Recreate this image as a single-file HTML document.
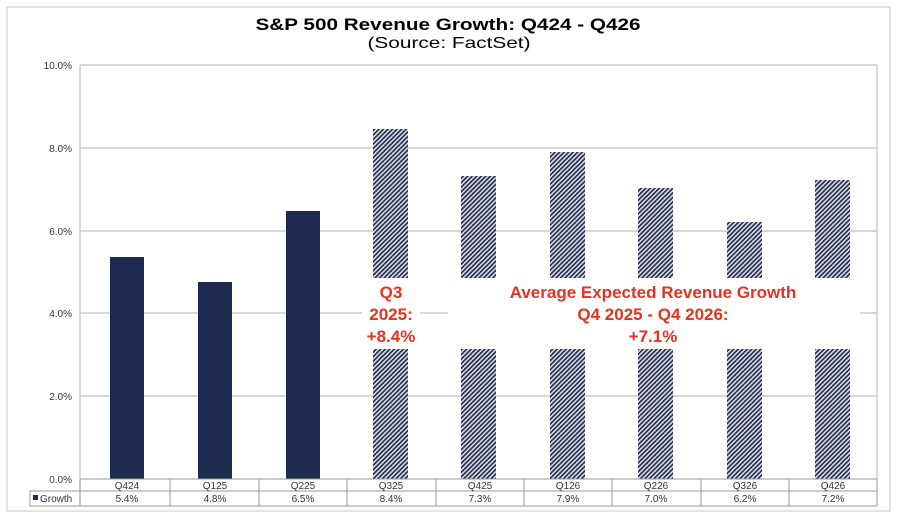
<!DOCTYPE html>
<html><head><style>body{margin:0;background:#fff}svg{display:block}</style></head><body>
<svg width="900" height="522" viewBox="0 0 900 522" xmlns="http://www.w3.org/2000/svg" font-family="Liberation Sans, Arial, sans-serif">
<defs>
<pattern id="h" patternUnits="userSpaceOnUse" width="3.2" height="3.2" patternTransform="rotate(45)">
<rect width="3.2" height="3.2" fill="#e6e8ee"/><rect width="1.8" height="3.2" fill="#2b3556"/>
</pattern>
</defs>
<rect x="7" y="7" width="883" height="504" fill="#fff" stroke="#c8c8c8"/>
<text x="448" y="30" text-anchor="middle" font-size="17" font-weight="bold" textLength="385" lengthAdjust="spacingAndGlyphs">S&amp;P 500 Revenue Growth: Q424 - Q426</text>
<text x="449" y="48" text-anchor="middle" font-size="16" textLength="163" lengthAdjust="spacingAndGlyphs">(Source: FactSet)</text>
<g stroke="#c0c0c0" stroke-width="1.2">
<line x1="80" y1="65" x2="877" y2="65"/>
<line x1="80" y1="148" x2="877" y2="148"/>
<line x1="80" y1="231" x2="877" y2="231"/>
<line x1="80" y1="313" x2="877" y2="313"/>
<line x1="80" y1="396" x2="877" y2="396"/>
<line x1="80" y1="65" x2="80" y2="479"/>
<line x1="877" y1="65" x2="877" y2="479"/>
</g>
<g font-size="10" fill="#333" text-anchor="end">
<text x="72" y="69">10.0%</text><text x="72" y="152">8.0%</text><text x="72" y="235">6.0%</text>
<text x="72" y="317">4.0%</text><text x="72" y="400">2.0%</text><text x="72" y="483">0.0%</text>
</g>
<g fill="#1c2a4f">
<rect x="110" y="257" width="34" height="222"/>
<rect x="198" y="282" width="34" height="197"/>
<rect x="286" y="211" width="34" height="268"/>
</g>
<g fill="url(#h)">
<rect x="373" y="129" width="35" height="350"/>
<rect x="461" y="176" width="35" height="303"/>
<rect x="550" y="152" width="35" height="327"/>
<rect x="638" y="188" width="35" height="291"/>
<rect x="727" y="222" width="35" height="257"/>
<rect x="815" y="180" width="35" height="299"/>
</g>
<rect x="362" y="278" width="498" height="71" fill="#fff"/>
<line x1="420" y1="313" x2="448" y2="313" stroke="#c0c0c0" stroke-width="1.2"/>
<g fill="#e8321f" font-size="17" font-weight="bold" text-anchor="middle" font-family="Liberation Sans, sans-serif">
<text x="391" y="298">Q3</text><text x="391" y="320">2025:</text><text x="391" y="342">+8.4%</text>
<text x="653" y="298">Average Expected Revenue Growth</text>
<text x="653" y="320">Q4 2025 - Q4 2026:</text>
<text x="653" y="342">+7.1%</text>
</g>
<g stroke="#999" fill="none">
<line x1="80" y1="479" x2="877" y2="479"/>
<line x1="30" y1="491" x2="877" y2="491"/>
<rect x="30" y="491" width="847" height="15"/>
<line x1="80" y1="479" x2="80" y2="506"/>
<line x1="170" y1="479" x2="170" y2="506"/><line x1="259" y1="479" x2="259" y2="506"/>
<line x1="347" y1="479" x2="347" y2="506"/><line x1="436" y1="479" x2="436" y2="506"/>
<line x1="524" y1="479" x2="524" y2="506"/><line x1="612" y1="479" x2="612" y2="506"/>
<line x1="701" y1="479" x2="701" y2="506"/><line x1="789" y1="479" x2="789" y2="506"/>
<line x1="877" y1="479" x2="877" y2="506"/>
</g>
<rect x="33" y="495" width="5" height="5" fill="#1c2a4f"/>
<text x="40" y="502" font-size="10" fill="#333">Growth</text>
<g font-size="10" fill="#333" text-anchor="middle">
<text x="127" y="489">Q424</text><text x="215" y="489">Q125</text><text x="303" y="489">Q225</text>
<text x="391" y="489">Q325</text><text x="480" y="489">Q425</text><text x="568" y="489">Q126</text>
<text x="656" y="489">Q226</text><text x="745" y="489">Q326</text><text x="833" y="489">Q426</text>
<text x="127" y="502">5.4%</text><text x="215" y="502">4.8%</text><text x="303" y="502">6.5%</text>
<text x="391" y="502">8.4%</text><text x="480" y="502">7.3%</text><text x="568" y="502">7.9%</text>
<text x="656" y="502">7.0%</text><text x="745" y="502">6.2%</text><text x="833" y="502">7.2%</text>
</g>
</svg>
</body></html>
